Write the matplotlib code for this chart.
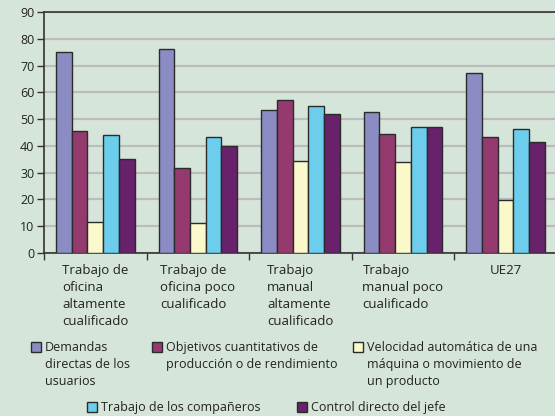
import numpy as np
import matplotlib
matplotlib.use('Agg')
import matplotlib.pyplot as plt
from matplotlib.patches import Rectangle

plt.rcParams['font.family'] = ['Open Sans', 'DejaVu Sans']

# Categories (x axis) and the five series
categories = ['Trabajo de\noficina\naltamente\ncualificado',
              'Trabajo de\noficina poco\ncualificado',
              'Trabajo\nmanual\naltamente\ncualificado',
              'Trabajo\nmanual poco\ncualificado',
              'UE27']
series_names = ['Demandas\ndirectas de los\nusuarios',
                'Objetivos cuantitativos de\nproducción o de rendimiento',
                'Velocidad automática de una\nmáquina o movimiento de\nun producto',
                'Trabajo de los compañeros',
                'Control directo del jefe']
demandas = [75, 76.3, 53.4, 52.8, 67.2]
objetivos = [45.4, 31.8, 57.1, 44.6, 43.4]
velocidad = [11.5, 11.0, 34.2, 33.9, 19.8]
companeros = [44.1, 43.2, 54.8, 47.2, 46.2]
control = [35.2, 39.8, 52.0, 47.2, 41.6]
series = [demandas, objetivos, velocidad, companeros, control]
colors = ['#8b8cc4', '#943a6e', '#fbf8cb', '#6ccdec', '#67226b']

bg = '#d6e5d9'
fig = plt.figure(figsize=(5.55, 4.16), dpi=100, facecolor=bg)
ax = fig.add_axes([0.0793, 0.392, 0.924, 0.579], facecolor=bg)

x = np.arange(len(categories))
w = 0.153
for i, (vals, c) in enumerate(zip(series, colors)):
    ax.bar(x + 0.5 + (i - 2) * w, vals, width=w, color=c,
           edgecolor='#2b2b2b', linewidth=1.0, zorder=3)

ax.set_xlim(0, 5)
ax.set_ylim(0, 90)
ax.set_yticks(range(0, 91, 10))
ax.yaxis.grid(True, color='#bcbcbc', linewidth=1.6, zorder=0)
ax.set_xticks(range(0, 6))
ax.set_xticklabels([])
ax.tick_params(axis='x', direction='out', length=5, width=1, color='#333333')
ax.tick_params(axis='y', direction='out', length=5, width=1, color='#333333',
               labelsize=9, labelcolor='#222222', pad=2)
for s in ['left', 'bottom', 'top']:
    ax.spines[s].set_color('#333333')
    ax.spines[s].set_linewidth(1.2)
ax.spines['right'].set_visible(False)

# category labels under each group
for i, lab in enumerate(categories):
    ax.text(i + 0.5, -0.045, lab, transform=ax.get_xaxis_transform(),
            ha='center', va='top', multialignment='left',
            fontsize=9.5, color='#222222', linespacing=1.42)

# legend drawn by hand
leg_pos = [(31, 342), (152, 342), (353, 342), (87, 402), (297, 402)]
for (px, py), name, c in zip(leg_pos, series_names, colors):
    fig.patches.append(Rectangle((px / 555, 1 - (py + 10) / 416), 10 / 555, 10 / 416,
                                 transform=fig.transFigure, facecolor=c,
                                 edgecolor='#2b2b2b', linewidth=1.0))
    fig.text((px + 14) / 555, 1 - (py - 1) / 416, name, ha='left', va='top',
             fontsize=9, color='#222222', linespacing=1.4)

fig.savefig('out.png', dpi=100, facecolor=bg)
